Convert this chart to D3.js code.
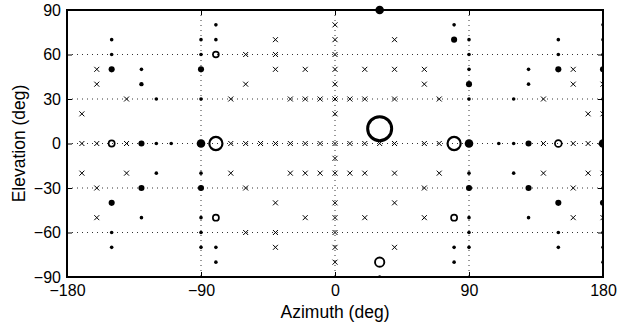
<!DOCTYPE html>
<html>
<head>
<meta charset="utf-8">
<script src="https://cdn.jsdelivr.net/npm/d3@7"></script>
<style>
  body { margin: 0; background: #fff; }
  svg text { font-family: "Liberation Sans", Arial, Helvetica, sans-serif; fill: #000; }
</style>
</head>
<body>
<div id="chart"></div>
<script>
// 刻度
const xTicks = [-180, -90, 0, 90, 180];
const yTicks = [-90, -60, -30, 0, 30, 60, 90];

// 叉号 [方位角, 仰角]
const crosses = [
  [0, 80],
  [-40, 70], [0, 70], [40, 70],
  [-60, 60], [-40, 60], [0, 60],
  [-160, 50], [-40, 50], [-20, 50], [0, 50], [20, 50], [40, 50], [60, 50], [160, 50],
  [-160, 40], [-60, 40], [0, 40], [60, 40], [160, 40], [180, 40],
  [-140, 30], [-70, 30], [-30, 30], [-20, 30], [-10, 30], [0, 30], [10, 30], [20, 30], [40, 30], [70, 30], [140, 30],
  [-170, 20], [0, 20], [170, 20], [180, 20],
  [-170, 0], [-160, 0], [-140, 0], [-70, 0], [-60, 0], [-50, 0], [-40, 0], [-30, 0], [-20, 0], [-10, 0],
  [0, 0], [10, 0], [20, 0], [30, 0], [40, 0], [60, 0], [70, 0], [140, 0], [160, 0], [170, 0],
  [0, -10],
  [-170, -20], [-140, -20], [-70, -20], [-30, -20], [-20, -20], [-10, -20], [0, -20], [10, -20], [20, -20],
  [40, -20], [70, -20], [140, -20], [170, -20], [180, -20],
  [-160, -30], [-60, -30], [60, -30], [160, -30],
  [-40, -40], [0, -40], [40, -40],
  [-160, -50], [-20, -50], [0, -50], [20, -50], [60, -50], [160, -50], [180, -50],
  [-60, -60], [-40, -60], [0, -60],
  [-40, -70], [0, -70], [40, -70],
  [0, -80]
];

// 实心点 [方位角, 仰角, 权重]
const dots = [
  [30, 90, 3],
  [-80, 80, 1], [80, 80, 1], [180, 80, 1],
  [-150, 70, 1], [-90, 70, 1], [-80, 70, 1], [80, 70, 2], [90, 70, 1], [150, 70, 1], [180, 70, 1],
  [-150, 60, 1], [-90, 60, 1], [90, 60, 1], [150, 60, 1], [180, 60, 1],
  [-150, 50, 2], [-130, 50, 1], [-90, 50, 2], [90, 50, 1], [130, 50, 1], [150, 50, 2], [180, 50, 2],
  [-130, 40, 1.3], [90, 40, 2], [130, 40, 1],
  [-120, 30, 1], [-90, 30, 1], [90, 30, 1], [120, 30, 1], [180, 30, 1],
  [-130, 0, 2], [-120, 0, 1], [-110, 0, 1], [-90, 0, 3], [90, 0, 3], [110, 0, 1], [120, 0, 1], [130, 0, 2], [180, 0, 3],
  [-120, -20, 1], [-90, -20, 1], [90, -20, 1], [120, -20, 1],
  [-130, -30, 2], [-90, -30, 2], [90, -30, 2], [130, -30, 2], [180, -30, 1],
  [-150, -40, 2], [150, -40, 2], [180, -40, 2],
  [-130, -50, 1], [-90, -50, 1], [90, -50, 1], [130, -50, 1],
  [-150, -60, 1], [-90, -60, 1], [90, -60, 1], [150, -60, 1], [180, -60, 1],
  [-150, -70, 1], [-90, -70, 1], [-80, -70, 1], [80, -70, 1], [90, -70, 1], [150, -70, 1], [180, -70, 1],
  [-80, -80, 1], [80, -80, 1], [180, -80, 1],
  [30, -90, 1]
];

// 空心圆 [方位角, 仰角, 权重]
const rings = [
  [30, 10, 1.0],
  [-80, 0, 0.3], [80, 0, 0.3],
  [30, -80, 0.15],
  [-150, 0, 0.065], [150, 0, 0.08],
  [-80, 60, 0.06], [-80, -50, 0.065], [80, -50, 0.065]
];

const width = 632;
const height = 327;
const margin = { top: 10, right: 29, bottom: 50, left: 67 };
const innerWidth = width - margin.left - margin.right;
const innerHeight = height - margin.top - margin.bottom;

const svg = d3.select('#chart')
  .append('svg')
  .attr('width', width)
  .attr('height', height);

const x = d3.scaleLinear().domain([-180, 180]).range([0, innerWidth]);
const y = d3.scaleLinear().domain([-90, 90]).range([innerHeight, 0]);
const dotR = d3.scaleLinear().domain([1, 3]).range([1.8, 4.3]);
const ringR = d3.scaleSqrt().domain([0, 1]).range([0, 12]);

const fmt = d => d < 0 ? '\u2212' + Math.abs(d) : String(d);

svg.append('defs').append('clipPath')
  .attr('id', 'clip')
  .append('rect')
  .attr('x', 0)
  .attr('y', -margin.top)
  .attr('width', innerWidth)
  .attr('height', innerHeight + margin.top);

const g = svg.append('g')
  .attr('transform', `translate(${margin.left},${margin.top})`);

// 网格线
g.append('g')
  .selectAll('line')
  .data(xTicks.slice(1, -1))
  .join('line')
  .attr('x1', d => x(d)).attr('x2', d => x(d))
  .attr('y1', 0).attr('y2', innerHeight)
  .attr('stroke', '#000')
  .attr('stroke-width', 0.8)
  .attr('stroke-dasharray', '1,4');

g.append('g')
  .selectAll('line')
  .data(yTicks.slice(1, -1))
  .join('line')
  .attr('y1', d => y(d)).attr('y2', d => y(d))
  .attr('x1', 0).attr('x2', innerWidth)
  .attr('stroke', '#000')
  .attr('stroke-width', 0.8)
  .attr('stroke-dasharray', '1,4');

// 标记
const marks = g.append('g').attr('clip-path', 'url(#clip)');

marks.selectAll('path.cross')
  .data(crosses)
  .join('path')
  .attr('class', 'cross')
  .attr('d', d => {
    const cx = x(d[0]), cy = y(d[1]), s = 2.5;
    return `M${cx - s},${cy - s}L${cx + s},${cy + s}M${cx - s},${cy + s}L${cx + s},${cy - s}`;
  })
  .attr('stroke', '#000')
  .attr('stroke-width', 1)
  .attr('fill', 'none');

marks.selectAll('circle.dot')
  .data(dots)
  .join('circle')
  .attr('class', 'dot')
  .attr('cx', d => x(d[0]))
  .attr('cy', d => y(d[1]))
  .attr('r', d => dotR(d[2]))
  .attr('fill', '#000');

marks.selectAll('circle.ring')
  .data(rings)
  .join('circle')
  .attr('class', 'ring')
  .attr('cx', d => x(d[0]))
  .attr('cy', d => y(d[1]))
  .attr('r', d => ringR(d[2]))
  .attr('fill', 'none')
  .attr('stroke', '#000')
  .attr('stroke-width', d => 1.2 + ringR(d[2]) * 0.15);

// 坐标轴
const axisStyle = sel => {
  sel.select('.domain').remove();
  sel.selectAll('.tick line').attr('stroke', '#000').attr('stroke-width', 1);
  sel.selectAll('.tick text').style('font-size', '16px');
};
// 上、右两侧只留刻度线
const ticksOnly = sel => {
  sel.select('.domain').remove();
  sel.selectAll('.tick text').remove();
  sel.selectAll('.tick line').attr('stroke', '#000').attr('stroke-width', 1);
};

g.append('g')
  .attr('transform', `translate(0,${innerHeight})`)
  .call(d3.axisBottom(x).tickValues(xTicks).tickFormat(fmt).tickSize(-5).tickPadding(8))
  .call(axisStyle);

g.append('g')
  .call(d3.axisTop(x).tickValues(xTicks).tickSize(-5))
  .call(ticksOnly);

g.append('g')
  .call(d3.axisLeft(y).tickValues(yTicks).tickFormat(fmt).tickSize(-5).tickPadding(6))
  .call(axisStyle);

g.append('g')
  .attr('transform', `translate(${innerWidth},0)`)
  .call(d3.axisRight(y).tickValues(yTicks).tickSize(-5))
  .call(ticksOnly);

g.append('rect')
  .attr('width', innerWidth)
  .attr('height', innerHeight)
  .attr('fill', 'none')
  .attr('stroke', '#000')
  .attr('stroke-width', 2);

// 轴标题
svg.append('text')
  .attr('x', margin.left + innerWidth / 2)
  .attr('y', 318)
  .attr('text-anchor', 'middle')
  .style('font-size', '17.5px')
  .text('Azimuth (deg)');

svg.append('text')
  .attr('transform', `translate(25,${margin.top + innerHeight / 2}) rotate(-90)`)
  .attr('text-anchor', 'middle')
  .style('font-size', '17.5px')
  .text('Elevation (deg)');
</script>
</body>
</html>
